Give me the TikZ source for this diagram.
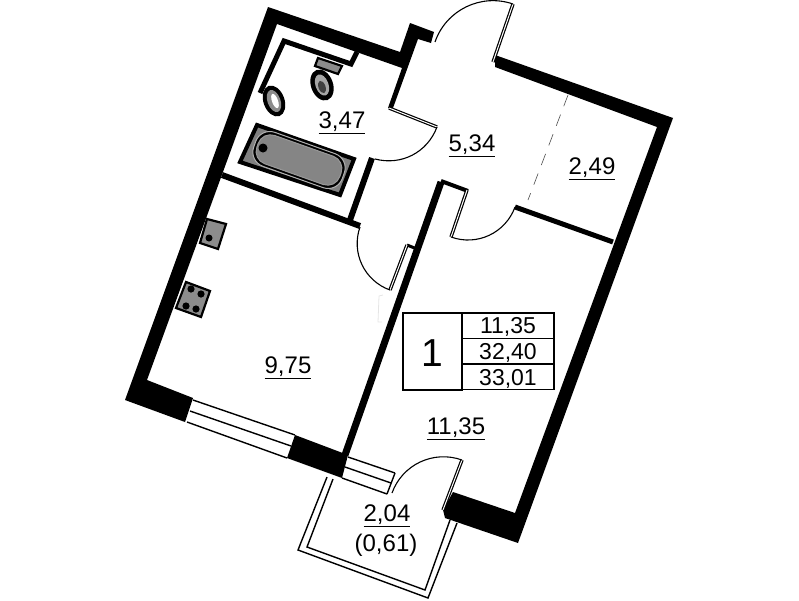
\documentclass[tikz,border=0pt]{standalone}
\usepackage{fontspec}
\setmainfont{Liberation Sans}
\usepackage{tikz}
\usetikzlibrary{shapes.geometric}
\begin{document}
\begin{tikzpicture}[x=1pt,y=-1pt,
    wall/.style={fill=black,draw=none},
    thinwall/.style={draw=black,line width=5pt,line join=miter},
    leaf/.style={draw=black,double=white,double distance=1pt,line width=1.2pt},
    swing/.style={draw=black,line width=1.1pt},
    frame/.style={draw=black,line width=1.4pt},
    fixture/.style={draw=black,fill=black!45,line width=2.2pt},
    oval/.style={ellipse,rotate=-70,inner sep=0pt},
    area/.style={inner sep=0pt,font=\fontsize{24}{26}\selectfont},
    cell/.style={draw=black,line width=1.3pt,inner sep=0pt,font=\fontsize{23}{25}\selectfont}]
    \useasboundingbox (0,0) rectangle (799,600);

    % Outer walls
    \fill[wall] (268,7) -- (400,52) -- (410,23) -- (434,32) -- (431,43) -- (418,39)
      -- (393,108) -- (388,108) -- (402,68) -- (277,24) -- (147,380) -- (193,398)
      -- (185,422) -- (125,400) -- cycle;
    \fill[wall] (495,55) -- (673,118) -- (518,543) -- (445,518) -- (443,510)
      -- (453,492) -- (515,513) -- (657,127) -- (495,67) -- cycle;
    \fill[wall] (295,435) -- (348,455) -- (342,478) -- (287,458) -- cycle;

    % Inner walls
    \draw[thinwall] (260,93) -- (284,41) -- (351,64) -- (357,52);
    \draw[thinwall,line width=6pt] (222,175) -- (360,226);
    \draw[thinwall,line width=6pt] (372,158) -- (350,220);
    \draw[thinwall,line width=7pt] (345,455) -- (441,182);
    \draw[thinwall,line width=4pt] (441,181) -- (468,191);
    \draw[thinwall] (515,207) -- (613,242);
    \draw[thinwall,line width=3pt] (407,245) -- (417,249);
    \draw[black!70,line width=.6pt,dash pattern=on 12pt off 9pt] (568,95) -- (528,200);
    \draw[black!10,line width=.8pt] (383,295) -- (379,296) -- (378,322) -- (382,322);

    % Windows
    \foreach \xa/\ya/\xb/\yb in {193/400/295/435,190/411/291/446,187/422/287/458,
        348/457/395/473,345/467/391/483,342/478/387/494} {
      \draw[frame] (\xa,\ya) -- (\xb,\yb);
    }
    \draw[frame] (395,473) -- (387,494);

    % Balcony
    \draw[frame] (327,477) -- (298,550) -- (428,598) -- (457,523);
    \draw[frame] (333,479) -- (307,547) -- (425,590) -- (450,520);

    % Doors
    \coordinate (d1a) at (437,127);
    \coordinate (d1b) at (389,108);
    \coordinate (d1c) at (375,159);
    \coordinate (d2a) at (513,4);
    \coordinate (d2b) at (493,62);
    \coordinate (d2c) at (435,42);
    \coordinate (d3a) at (451,237);
    \coordinate (d3b) at (467,190);
    \coordinate (d3c) at (515,207);
    \coordinate (d4a) at (390,290);
    \coordinate (d4b) at (407,245);
    \coordinate (d4c) at (360,227);
    \coordinate (d5a) at (462,460);
    \coordinate (d5b) at (443,510);
    \coordinate (d5c) at (392,493);
    \foreach \d in {d1,d2,d3,d4,d5} {
      \draw[leaf] (\d a) -- (\d b);
    }
    \draw[swing] (d1a) to[bend left=42] (d1c);
    \draw[swing] (d2a) to[bend right=45] (d2c);
    \draw[swing] (d3a) to[bend right=45] (d3c);
    \draw[swing] (d4a) to[bend left=45] (d4c);
    \draw[swing] (d5a) to[bend right=45] (d5c);

    % Bath
    \draw[fixture,fill=black!50,line width=4pt] (257,125) -- (354,159) -- (340,195) -- (240,162) -- cycle;
    \node[draw=black!30,line width=1pt,fill=black,rotate=-19.5,minimum width=94pt,minimum height=36pt,
      rounded corners=15pt,inner sep=0pt] (bathrim) at (299,160) {};
    \node[draw=black!40,line width=1pt,fill=black!48,rotate=-19.5,minimum width=88pt,minimum height=30pt,
      rounded corners=13pt,inner sep=0pt] (bathtub) at (299,160) {};
    \fill (263,148) circle (4.5pt);

    % Toilet and basin
    \draw[fixture] (318,58) -- (342,66) -- (338,74) -- (315,66) -- cycle;
    \node[oval,fill=black,minimum width=32pt,minimum height=22pt] (bowl) at (322,85) {};
    \node[oval,fill=black!35,minimum width=22pt,minimum height=13pt] (bowlin) at (322,85) {};
    \node[oval,fill=black!75,minimum width=13pt,minimum height=7pt] (bowlpit) at (322,87) {};
    \node[oval,fill=black,minimum width=32pt,minimum height=21pt] (basin) at (274,101) {};
    \node[oval,fill=black!45,minimum width=23pt,minimum height=13pt] (basinrim) at (274,101) {};
    \node[oval,fill=white,minimum width=15pt,minimum height=6pt] (basinin) at (275,101) {};

    % Kitchen sink and stove
    \draw[fixture] (207,219) -- (226,224) -- (218,249) -- (200,243) -- cycle;
    \fill (209,238) circle (3.5pt);
    \draw[fixture] (186,282) -- (210,291) -- (201,317) -- (176,308) -- cycle;
    \foreach \x/\y in {191/289,201/294,186/306,196/309} {
      \fill (\x,\y) circle (3.6pt);
    }

    % Room areas
    \foreach \n/\x/\y/\t in {a/342/123/{3,47},b/472/146/{5,34},c/592/169/{2,49},
        d/288/368/{9,75},e/456/429/{11,35},f/387/516/{2,04}} {
      \node[area] (room\n) at (\x,\y) {\underline{\t}};
    }
    \node[area] (balcony) at (386,545) {(0,61)};

    % Summary table
    \node[cell,minimum width=59pt,minimum height=77pt] (tabno) at (432.5,351.5) {};
    \node[area,font=\fontsize{39}{40}\selectfont] (tabnum) at (432,353) {1};
    \foreach \i/\y/\t in {1/325.7/{11,35},2/351.2/{32,40},3/377/{33,01}} {
      \node[cell,minimum width=92pt,minimum height=25.5pt] (tab\i) at (508,\y) {};
      \node[area,font=\fontsize{23}{25}\selectfont] (val\i) at (508,\y+1.5) {\t};
    }
  \end{tikzpicture}
\end{document}
